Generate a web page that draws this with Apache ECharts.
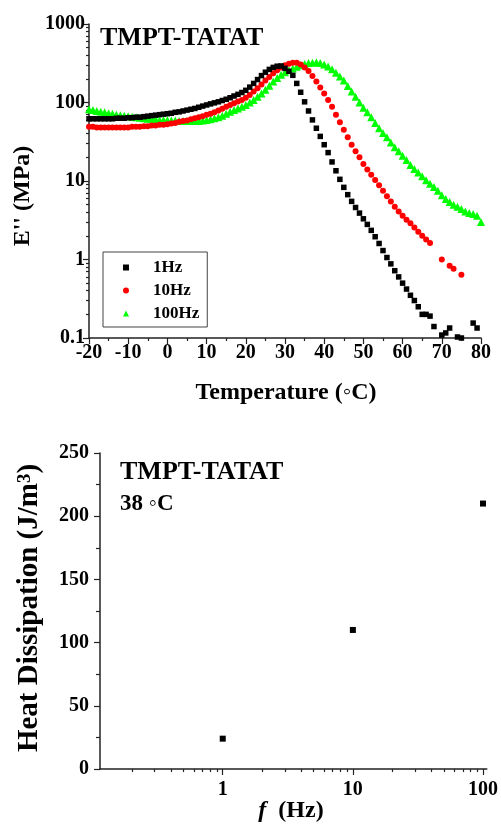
<!DOCTYPE html>
<html><head><meta charset="utf-8">
<script src="https://cdn.jsdelivr.net/npm/echarts@6/dist/echarts.min.js"></script>
<style>html,body{margin:0;padding:0;background:#fff}#c{width:501px;height:824px}</style>
</head><body><div id="c"></div>
<script>
// ---- data ----
const TEMPS = [-20,-19,-18,-17,-16,-15,-14,-13,-12,-11,-10,-9,-8,-7,-6,-5,-4,-3,-2,-1,
  0,1,2,3,4,5,6,7,8,9,10,11,12,13,14,15,16,17,18,19,20,21,22,23,24,25,26,27,28,29,
  30,31,32,33,34,35,36,37,38,39,40,41,42,43,44,45,46,47,48,49,50,51,52,53,54,55,56,57,58,59,
  60,61,62,63,64,65,66,67,68,69,70,71,72,73,74,75,76,77,78,79,80];
const E_1HZ = [62,62,62,62,62,62,62,63,63,63,
  64,64,65,65,66,67,68,69,70,71,
  72,73,75,76,78,80,82,84,87,90,
  93,96,99,102,106,110,115,121,127,134,
  143,157,175,196,220,243,264,280,290,292,
  272,250,222,175,135,102,78,60,47,37,
  29,23,17.5,13.5,10.5,8.3,6.7,5.5,4.6,3.9,
  3.3,2.8,2.35,1.95,1.6,1.3,1.06,0.88,0.72,0.6,
  0.5,0.42,0.35,0.3,0.25,0.2,0.2,0.19,0.14,null,
  0.109,0.116,0.134,null,0.103,0.1,null,null,0.155,0.134,
  null];
const E_10HZ = [49,49,48,48,48,48,48,48,48,48,
  48,49,49,49,50,50,51,51,52,52,
  53,54,55,57,58,59,61,63,65,67,
  70,72,75,79,83,88,93,98,103,108,
  115,125,138,152,170,190,212,235,258,280,
  298,312,320,320,305,280,252,218,185,155,
  130,108,88,70,56,45,36,29,24,20,
  16.5,14,12,10.3,8.8,7.5,6.4,5.5,4.7,4.1,
  3.6,3.2,2.9,2.55,2.25,2.0,1.8,1.62,null,null,
  1.0,null,0.83,0.76,null,0.64,null,null,null,null,
  null];
const E_100HZ = [82,80,78,76,75,73,72,70,69,68,
  67,66,65,64,63,62,62,61,60,60,
  60,59,59,58,58,58,58,58,58,59,
  60,61,63,65,68,72,76,80,84,88,
  93,100,108,118,130,145,163,185,205,225,
  243,258,272,285,298,310,318,322,325,318,
  305,288,265,240,215,190,162,138,118,100,
  86,75,65,55,47,41,36,31,27,24,
  21,18.5,16,14.2,12.8,11.5,10.2,9.2,8.4,7.5,
  6.6,5.9,5.4,5.0,4.7,4.4,4.1,3.9,3.8,3.6,
  3.0];
const FREQ = [1, 10, 100];
const HEAT = [24, 110, 210];
const E_TICKS = [0.1, 1, 10, 100, 1000];
const FREQ_TICKS = [1, 10, 100];
const SERIES_NAMES = ['1Hz', '10Hz', '100Hz'];

// ---- helpers ----
function pairs(xs, ys) { const out = []; xs.forEach((x, i) => { if (ys[i] != null) out.push([x, ys[i]]); }); return out; }
function logMinor(decades) { const out = []; for (let i = 0; i < decades.length - 1; i++) for (let k = 2; k <= 9; k++) out.push(Math.log10(decades[i] * k)); return out; }

const SERIF = "'Liberation Serif','Times New Roman',serif";
const AX = '#222';
const lab = (extra) => Object.assign({ fontFamily: SERIF, fontWeight: 'bold', fontSize: 20, color: '#000' }, extra || {});
const line = { show: true, onZero: false, lineStyle: { color: AX, width: 1.5 } };

const FMIN = 0.114, FMAX = 107;
const FREQ_MINOR = logMinor([0.1, 1, 10, 100]).filter(v => v > Math.log10(FMIN) && v < Math.log10(FMAX));

const chart = echarts.init(document.getElementById('c'), null, { renderer: 'canvas' });
chart.setOption({
  animation: false,
  backgroundColor: '#fff',
  grid: [
    { left: 89, top: 24, width: 392, height: 314 },
    { left: 100, top: 453, width: 391, height: 316 }
  ],
  legend: {
    data: SERIES_NAMES, orient: 'vertical', left: 103, top: 252,
    padding: [7, 8, 5, 20], itemGap: 6, itemWidth: 6, itemHeight: 6,
    borderColor: '#444', borderWidth: 1,
    textStyle: { fontFamily: SERIF, fontWeight: 'bold', fontSize: 17, color: '#000', padding: [0, 0, 0, 19] }
  },
  xAxis: [
    { gridIndex: 0, type: 'value', min: -20, max: 80, interval: 10,
      axisLine: line, axisTick: { length: 6, lineStyle: { color: AX, width: 1.2 } },
      minorTick: { show: true, splitNumber: 2, length: 3, lineStyle: { color: AX, width: 1.2 } },
      axisLabel: lab({ margin: 5 }), splitLine: { show: false } },
    { gridIndex: 1, type: 'log', logBase: 10, min: FMIN, max: FMAX, position: 'bottom',
      axisLine: line, axisTick: { show: false },
      axisLabel: lab({ margin: 11, showMinLabel: false, showMaxLabel: false,
        formatter: v => (FREQ_TICKS.some(t => Math.abs(t - v) < 1e-6) ? String(Math.round(v)) : '') }),
      splitLine: { show: false } },
    { gridIndex: 1, type: 'value', min: Math.log10(FMIN), max: Math.log10(FMAX), position: 'bottom',
      axisLine: { show: false, onZero: false }, axisLabel: { show: false }, splitLine: { show: false },
      axisTick: { show: true, length: 6, customValues: FREQ_TICKS.map(v => Math.log10(v)), lineStyle: { color: AX, width: 1.2 } } },
    { gridIndex: 1, type: 'value', min: Math.log10(FMIN), max: Math.log10(FMAX), position: 'bottom',
      axisLine: { show: false, onZero: false }, axisLabel: { show: false }, splitLine: { show: false },
      axisTick: { show: true, length: 3, customValues: FREQ_MINOR, lineStyle: { color: AX, width: 1.2 } } }
  ],
  yAxis: [
    { gridIndex: 0, type: 'log', logBase: 10, min: 0.1, max: 1000, position: 'left',
      axisLine: line, axisTick: { length: 6, lineStyle: { color: AX, width: 1.2 } },
      axisLabel: lab({ margin: 4, formatter: v => String(v) }), splitLine: { show: false } },
    { gridIndex: 0, type: 'value', min: -1, max: 3, position: 'left',
      axisLine: { show: false, onZero: false }, axisLabel: { show: false }, splitLine: { show: false },
      axisTick: { show: true, length: 3, customValues: logMinor(E_TICKS), lineStyle: { color: AX, width: 1.2 } } },
    { gridIndex: 1, type: 'value', min: 0, max: 250, interval: 50, position: 'left',
      axisLine: line, axisTick: { length: 6, lineStyle: { color: AX, width: 1.2 } },
      minorTick: { show: true, splitNumber: 2, length: 4, lineStyle: { color: AX, width: 1.2 } },
      axisLabel: lab({ margin: 11 }), splitLine: { show: false } }
  ],
  series: [
    { name: '100Hz', type: 'scatter', xAxisIndex: 0, yAxisIndex: 0, symbol: 'triangle', symbolSize: 8,
      itemStyle: { color: '#00ff00', opacity: 1 }, data: pairs(TEMPS, E_100HZ), z: 2 },
    { name: '10Hz', type: 'scatter', xAxisIndex: 0, yAxisIndex: 0, symbol: 'circle', symbolSize: 6,
      itemStyle: { color: '#ff0000', opacity: 1 }, data: pairs(TEMPS, E_10HZ), z: 3 },
    { name: '1Hz', type: 'scatter', xAxisIndex: 0, yAxisIndex: 0, symbol: 'rect', symbolSize: 5.5,
      itemStyle: { color: '#000000', opacity: 1 }, data: pairs(TEMPS, E_1HZ), z: 4 },
    { name: 'Heat', type: 'scatter', xAxisIndex: 1, yAxisIndex: 2, symbol: 'rect', symbolSize: 6,
      itemStyle: { color: '#000000', opacity: 1 }, data: pairs(FREQ, HEAT) }
  ],
  graphic: [
    { type: 'text', x: 100, y: 38, style: { text: 'TMPT-TATAT', font: "bold 26px " + SERIF, fill: '#000', textAlign: 'left', textVerticalAlign: 'middle' } },
    { type: 'text', x: 23, y: 196, rotation: Math.PI / 2, style: { text: "E'' (MPa)", font: "bold 24px " + SERIF, fill: '#000', textAlign: 'center', textVerticalAlign: 'middle' } },
    { type: 'text', x: 286, y: 393, style: { text: 'Temperature (\u25E6C)', font: "bold 24px " + SERIF, fill: '#000', textAlign: 'center', textVerticalAlign: 'middle' } },
    { type: 'text', x: 120, y: 472, style: { text: 'TMPT-TATAT', font: "bold 26px " + SERIF, fill: '#000', textAlign: 'left', textVerticalAlign: 'middle' } },
    { type: 'text', x: 120, y: 504, style: { text: '38 \u25E6C', font: "bold 23px " + SERIF, fill: '#000', textAlign: 'left', textVerticalAlign: 'middle' } },
    { type: 'text', x: 30, y: 608, rotation: Math.PI / 2, style: {
        text: '{a|Heat Dissipation (J/m}{s|3}{a|)}', textAlign: 'center', textVerticalAlign: 'middle',
        rich: { a: { font: "bold 29px " + SERIF, fill: '#000' }, s: { font: "bold 19px " + SERIF, fill: '#000', verticalAlign: 'top' } } } },
    { type: 'text', x: 291, y: 811, style: {
        text: '{i|f}{a|(Hz)}', textAlign: 'center', textVerticalAlign: 'middle',
        rich: { i: { font: "italic bold 24px " + SERIF, fill: '#000', padding: [0, 12, 0, 0] }, a: { font: "bold 24px " + SERIF, fill: '#000' } } } }
  ]
});
</script></body></html>
